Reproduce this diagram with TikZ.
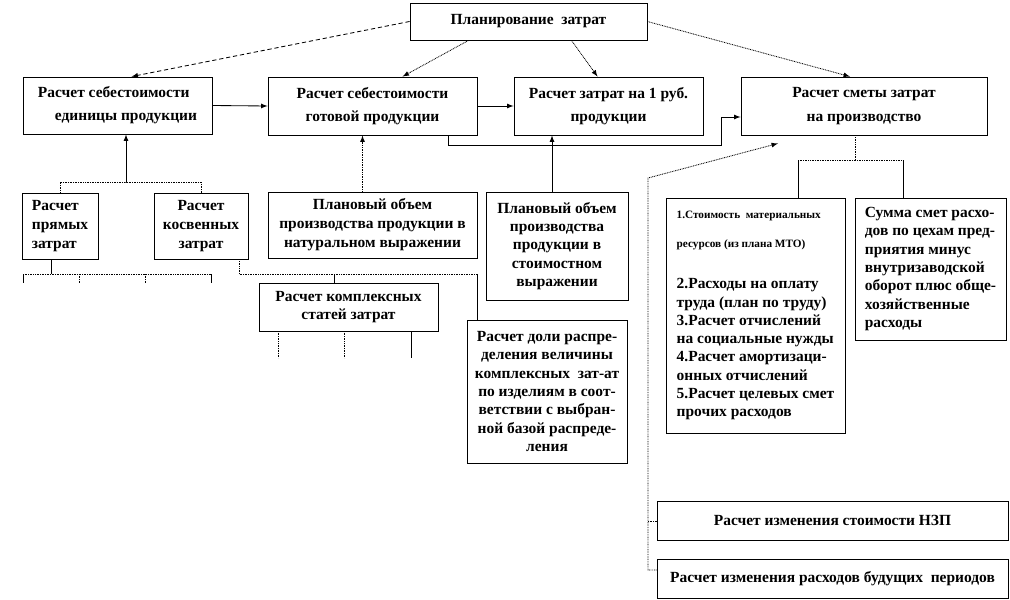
\documentclass[tikz,border=0pt]{standalone}
\usepackage{fontspec}
\setmainfont{Liberation Serif}
\usetikzlibrary{calc}

\begin{document}
\begin{tikzpicture}[x=0.025cm,y=-0.025cm,>=latex]
	\tikzstyle{every node}=[font=\bfseries\fontsize{11pt}{13pt}\selectfont]
	\tikzstyle{blk}=[draw, line width=0.6pt, rectangle, inner sep=0pt, align=center]
	\tikzstyle{wide}=[font=\bfseries\fontsize{11pt}{16.5pt}\selectfont]
	\tikzstyle{mid}=[font=\bfseries\fontsize{11pt}{13.5pt}\selectfont]
	\tikzstyle{con}=[line width=0.6pt]
	\tikzstyle{dots}=[dash pattern=on 0.6pt off 0.6pt]
	\tikzstyle{dcon}=[line width=0.6pt, dots]
	
	\useasboundingbox (0,0) rectangle (1010,599);
	
	% top level
	\node[blk, minimum width=5.925cm, minimum height=0.925cm] (plan) at (528.5,21.5) {Планирование\ \ затрат};
	
	% first row
	\node[blk, wide, align=left, minimum width=4.725cm, minimum height=1.425cm] (unit) at (117.5,105.5) {Расчет себестоимости\\\hspace*{1.1em}единицы продукции};
	\node[blk, wide, minimum width=5.225cm, minimum height=1.45cm] (ready) at (372.5,106) {Расчет себестоимости\\готовой продукции};
	\node[blk, wide, minimum width=4.725cm, minimum height=1.45cm] (rub) at (608.5,106) {Расчет затрат на 1 руб.\\продукции};
	\node[blk, wide, minimum width=6.15cm, minimum height=1.45cm] (est) at (864,106) {Расчет сметы затрат\\на производство};
	
	% second row
	\node[blk, mid, align=left, minimum width=1.9cm, minimum height=1.65cm] (direct) at (60,226) {Расчет\\прямых\\затрат};
	\node[blk, mid, minimum width=2.35cm, minimum height=1.65cm] (indirect) at (201,226) {Расчет\\косвенных\\затрат};
	\node[blk, mid, minimum width=5.225cm, minimum height=1.65cm] (natur) at (372.5,225) {Плановый объем\\производства продукции в\\натуральном выражении};
	\node[blk, minimum width=3.55cm, minimum height=2.7cm] (value) at (557,246) {Плановый объем\\производства\\продукции в\\стоимостном\\выражении};
	\node[blk, minimum width=4.475cm, minimum height=1.2cm] (compl) at (348.5,307) {Расчет комплексных\\статей затрат};
	\node[blk, minimum width=4cm, minimum height=3.575cm] (share) at (547,391.5) {Расчет доли распре-\\деления величины\\комплексных\ \ зат-ат\\по изделиям в\ соот-\\ветствии с выбран-\\ной базой распреде-\\ления};
	
	\node[blk, align=left, minimum width=4.475cm, minimum height=5.875cm] (items) at (755.5,315.5) {{\fontsize{8pt}{10pt}\selectfont 1.Стоимость\ \ материальных}\\[8pt]{\fontsize{8pt}{10pt}\selectfont ресурсов (из плана МТО)}\\[16pt]2.Расходы на оплату\\труда (план по труду)\\3.Расчет отчислений\\на социальные нужды\\4.Расчет амортизаци-\\онных отчислений\\5.Расчет целевых смет\\прочих расходов};
	\node[blk, align=left, minimum width=3.775cm, minimum height=3.55cm] (sum) at (930.5,269) {Сумма смет расхо-\\дов по цехам пред-\\приятия минус\\внутризаводской\\оборот плюс обще-\\хозяйственные\\расходы};
	
	\node[blk, minimum width=8.775cm, minimum height=0.975cm] (wip) at (832.5,520.5) {Расчет изменения стоимости НЗП};
	\node[blk, minimum width=8.775cm, minimum height=0.975cm] (future) at (832.5,578.5) {Расчет изменения расходов будущих\ \ периодов};
	
	% arrows from the top box
	\draw[con, densely dashed, ->] (plan.west) -- ($(unit.north)+(14,0)$);
	\draw[dcon, ->] ($(plan.south)+(-60,0)$) -- ($(ready.north)+(30,0)$);
	\draw[dcon, ->] ($(plan.south)+(43,0)$) -- ($(rub.north)+(-11,0)$);
	\draw[dcon, ->] (plan.east) -- ($(est.north)+(-14,0)$);
	
	% first row links
	\draw[con, ->] (unit.east) -- (ready.west);
	\draw[con, ->] (ready.east) -- (rub.west);
	\draw[con, ->] ($(ready.south)+(76,0)$) -- ++(0,10) -| ($(est.west)+(-19,11)$) -- ($(est.west)+(0,11)$);
	
	% direct and indirect costs
	\coordinate (gh) at (126,182);
	\draw[dcon] (direct.north) |- (gh) -| (indirect.north);
	\draw[con, ->] (gh) -- (gh |- unit.south);
	
	\draw[con] ($(direct.south)+(-9,0)$) -- (51,274);
	\draw[dcon] (23,274) -- (211,274);
	\foreach \x/\s in {23/solid,79/dots,145/dots,211/solid}
		\draw[con, \s] (\x,274) -- (\x,283);
	
	\coordinate (hj) at (477,274);
	\coordinate (hi) at (334,274);
	\draw[dcon] ($(indirect.south)+(38,0)$) |- (hj);
	\draw[con] (hj) -- ($(share.north)+(-70,0)$);
	\draw[con] (hi) -- (hi |- compl.north);
	\foreach \x/\s in {278/dots,344/dots,411/solid}
		\draw[con, \s] (\x,331) -- (\x,358);
	
	% planned volumes
	\draw[dcon, ->] ($(natur.north)+(-10,0)$) -- ($(ready.south)+(-10,0)$);
	\draw[con, ->] ($(value.north)+(-5,0)$) -- ($(rub.south)+(-56.5,0)$);
	
	% estimate breakdown
	\coordinate (e1) at (798,160);
	\coordinate (f1) at (903,160);
	\draw[dcon] ($(est.south)+(-9,0)$) -- (855,160);
	\draw[dcon] (e1) -- (f1);
	\draw[con] (e1) -- (e1 |- items.north);
	\draw[con] (f1) -- (f1 |- sum.north);
	
	\coordinate (vt) at (648,178);
	\coordinate (vk) at (648,521);
	\coordinate (vb) at (648,570);
	\draw[dcon, ->] (vb -| future.west) -- (vb) -- (vt) -- ($(est.south)+(-86,8)$);
	\draw[dcon] (vk) -- (vk -| wip.west);
	
\end{tikzpicture}
\end{document}
